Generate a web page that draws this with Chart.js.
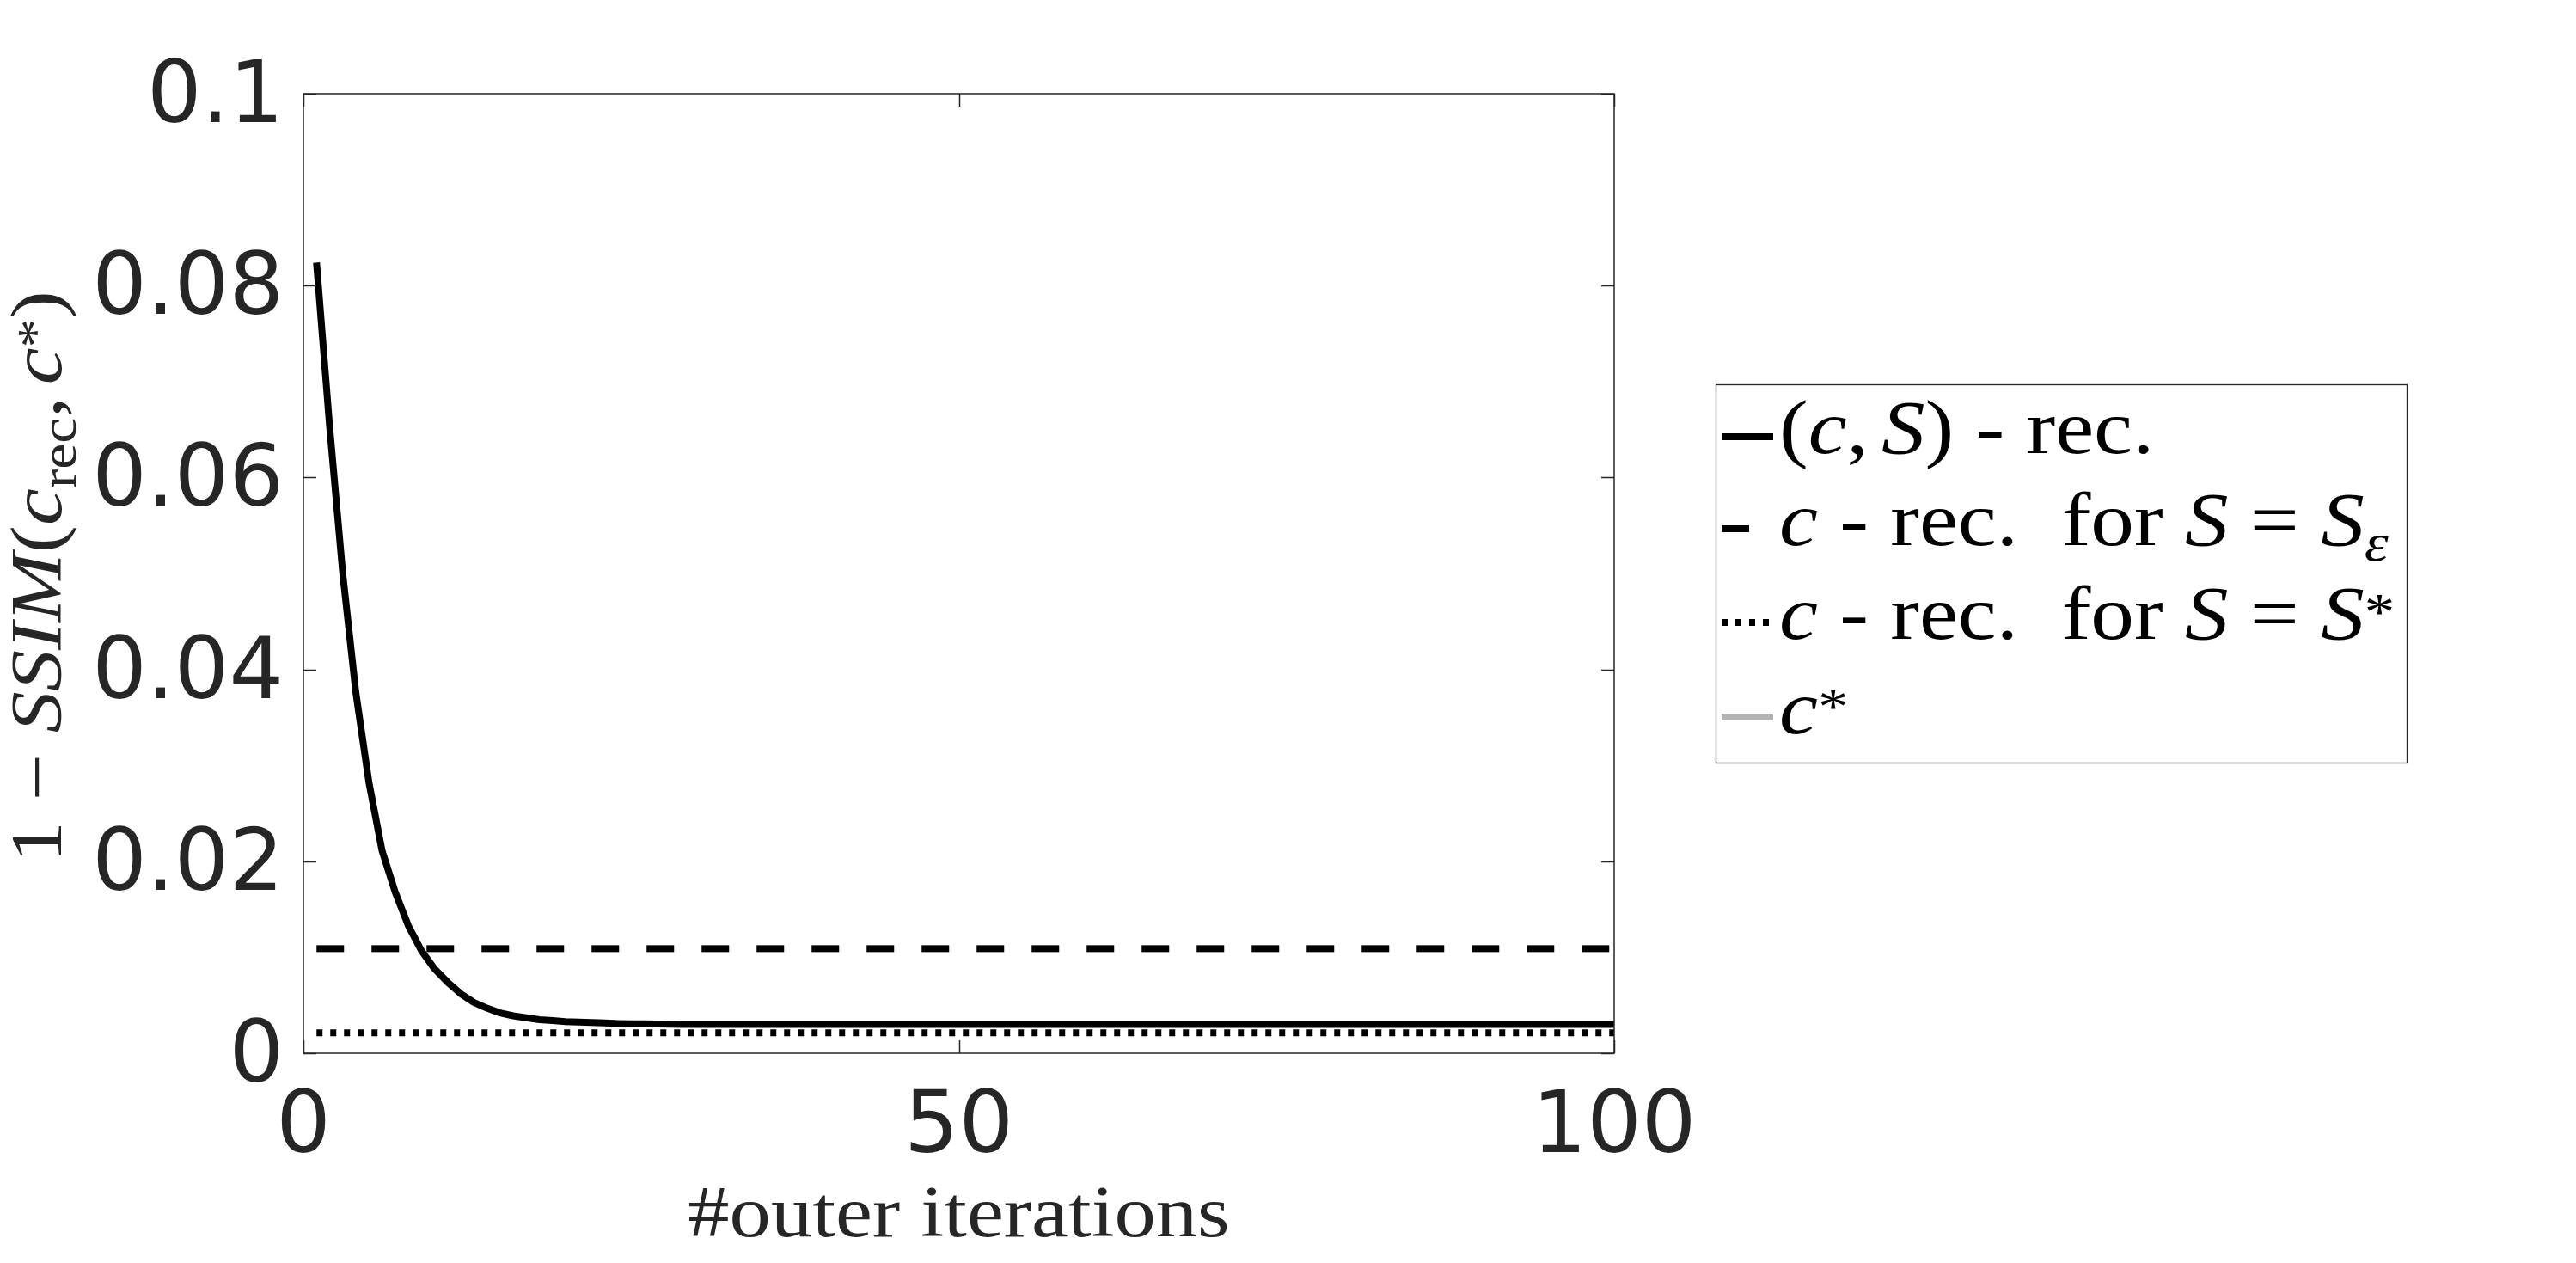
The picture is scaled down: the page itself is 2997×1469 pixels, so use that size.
<!DOCTYPE html>
<html>
<head>
<meta charset="utf-8">
<script src="https://cdn.jsdelivr.net/npm/chart.js@4/dist/chart.umd.min.js"></script>
<style>
html,body{margin:0;padding:0;background:#fff;overflow:hidden}
#wrap{width:2997px;height:1469px;position:relative;background:#fff}
</style>
</head>
<body>
<div id="wrap"><canvas id="c" width="2997" height="1469"></canvas></div>
<script>
// ---------------- data ----------------
const iterations = [1,2,3,4,5,6,7,8,9,10,11,12,13,14,15,16,17,18,19,20,
  21,22,23,24,25,26,27,28,29,30,31,32,33,34,35,36,37,38,39,40,
  41,42,43,44,45,46,47,48,49,50,51,52,53,54,55,56,57,58,59,60,
  61,62,63,64,65,66,67,68,69,70,71,72,73,74,75,76,77,78,79,80,
  81,82,83,84,85,86,87,88,89,90,91,92,93,94,95,96,97,98,99,100];
const csRecValues = [0.0824,0.0653,0.0500,0.0376,0.0282,0.0211,0.0168,0.0133,0.0107,0.0088,
  0.0074,0.0062,0.0053,0.0047,0.0042,0.0039,0.0037,0.0035,0.0034,0.0033,
  0.00325,0.0032,0.00315,0.0031,0.00308,0.00306,0.00304,0.00302,0.0030,0.0030,
  0.0030,0.0030,0.0030,0.0030,0.0030,0.0030,0.0030,0.0030,0.0030,0.0030,
  0.0030,0.0030,0.0030,0.0030,0.0030,0.0030,0.0030,0.0030,0.0030,0.0030,
  0.0030,0.0030,0.0030,0.0030,0.0030,0.0030,0.0030,0.0030,0.0030,0.0030,
  0.0030,0.0030,0.0030,0.0030,0.0030,0.0030,0.0030,0.0030,0.0030,0.0030,
  0.0030,0.0030,0.0030,0.0030,0.0030,0.0030,0.0030,0.0030,0.0030,0.0030,
  0.0030,0.0030,0.0030,0.0030,0.0030,0.0030,0.0030,0.0030,0.0030,0.0030,
  0.0030,0.0030,0.0030,0.0030,0.0030,0.0030,0.0030,0.0030,0.0030,0.0030];
const cRecSepsLevel = 0.0109;   // c - rec. for S = S_eps
const cRecSstarLevel = 0.00213; // c - rec. for S = S*
const levelRange = [1, 100];
const xTicks = [0, 50, 100];
const xTickLabels = ['0', '50', '100'];
const yTicks = [0, 0.02, 0.04, 0.06, 0.08, 0.1];
const yTickLabels = ['0', '0.02', '0.04', '0.06', '0.08', '0.1'];

// rich text (LaTeX-like) labels
const legendLabels = [
  [{t:'('},{t:'c',it:1},{t:','},{gap:0.17},{t:'S',it:1},{t:')'},{t:' - rec.'}],
  [{t:'c',it:1},{t:' - rec.  for '},{t:'S',it:1},{t:' = '},{t:'S',it:1},{t:'ε',it:1,sub:1}],
  [{t:'c',it:1},{t:' - rec.  for '},{t:'S',it:1},{t:' = '},{t:'S',it:1},{t:'*',sup:1}],
  [{t:'c',it:1},{t:'*',sup:1}]
];
const yTitle = [{t:'1'},{t:' − '},{t:'SSIM',it:1},{t:'('},{t:'c',it:1},{t:'rec',sub:1},{t:','},{gap:0.17},{t:'c',it:1},{t:'*',sup:1},{t:')'}];
const xTitle = [{t:'#outer iterations'}];

// ---------------- rich text helpers ----------------
const SERIF = '"Liberation Serif", "Times New Roman", serif';
const STRETCH = 1.15;
function segFont(sg, size){
  const s = (sg.sub || sg.sup) ? size * 0.7 : size;
  return (sg.it ? 'italic ' : '') + s + 'px ' + SERIF;
}
function segDy(sg, size){
  if (sg.sub) return 0.2 * size;
  if (sg.sup) return (sg.t === '*' ? -0.12 : -0.38) * size;
  return 0;
}
function measureRich(ctx, segs, size){
  let w = 0;
  for (const sg of segs){
    if (sg.gap) w += sg.gap * size;
    if (!sg.t) continue;
    ctx.font = segFont(sg, size);
    w += ctx.measureText(sg.t).width * STRETCH;
  }
  return w;
}
function drawRich(ctx, segs, size, x, y){
  let cx = x;
  for (const sg of segs){
    if (sg.gap) cx += sg.gap * size;
    if (!sg.t) continue;
    ctx.font = segFont(sg, size);
    const w = ctx.measureText(sg.t).width * STRETCH;
    ctx.save();
    ctx.translate(cx, y + segDy(sg, size));
    ctx.scale(STRETCH, 1);
    ctx.fillText(sg.t, 0, 0);
    ctx.restore();
    cx += w;
  }
  return cx;
}

// ---------------- plugins ----------------
const framePlugin = {
  id: 'frame',
  afterDatasetsDraw(chart){
    const {ctx, chartArea: a, scales: {x, y}} = chart;
    ctx.save();
    ctx.strokeStyle = '#262626';
    ctx.lineWidth = 1.5;
    ctx.strokeRect(a.left, a.top, a.right - a.left, a.bottom - a.top);
    ctx.beginPath();
    const TL = 15;
    for (const t of x.ticks){
      const px = Math.round(x.getPixelForValue(t.value)) + 0.5;
      ctx.moveTo(px, a.bottom); ctx.lineTo(px, a.bottom - TL);
      ctx.moveTo(px, a.top); ctx.lineTo(px, a.top + TL);
    }
    for (const t of y.ticks){
      const py = Math.round(y.getPixelForValue(t.value)) + 0.5;
      ctx.moveTo(a.left, py); ctx.lineTo(a.left + TL, py);
      ctx.moveTo(a.right, py); ctx.lineTo(a.right - TL, py);
    }
    ctx.stroke();
    ctx.restore();
  }
};

const titlesPlugin = {
  id: 'titles',
  afterDraw(chart){
    const {ctx, chartArea: a} = chart;
    ctx.save();
    ctx.fillStyle = '#262626';
    ctx.textBaseline = 'alphabetic';
    ctx.textAlign = 'left';
    // x title
    const xs = 84;
    const xw = measureRich(ctx, xTitle, xs);
    drawRich(ctx, xTitle, xs, (a.left + a.right) / 2 - xw / 2, 1438);
    // y title (rotated)
    const ys = 84;
    const yw = measureRich(ctx, yTitle, ys);
    ctx.save();
    ctx.translate(71, 671);
    ctx.rotate(-Math.PI / 2);
    drawRich(ctx, yTitle, ys, -yw / 2, 0);
    ctx.restore();
    ctx.restore();
  }
};

const legendPlugin = {
  id: 'mathLegend',
  afterDraw(chart){
    const {ctx} = chart;
    const box = {l: 1996, t: 447, r: 2800, b: 887};
    ctx.save();
    ctx.fillStyle = '#ffffff';
    ctx.fillRect(box.l, box.t, box.r - box.l, box.b - box.t);
    ctx.strokeStyle = '#262626';
    ctx.lineWidth = 1.3;
    ctx.strokeRect(box.l + 0.5, box.t + 0.5, box.r - box.l, box.b - box.t);
    const baselines = [527, 634, 743, 853];
    const size = 88;
    chart.data.datasets.forEach((ds, i) => {
      const by = baselines[i];
      const ly = by - 19;
      ctx.save();
      ctx.beginPath();
      ctx.strokeStyle = ds.borderColor;
      ctx.lineWidth = ds.borderWidth;
      ctx.lineCap = 'butt';
      ctx.setLineDash(ds.borderDash || []);
      ctx.moveTo(2003, ly);
      ctx.lineTo(2063, ly);
      ctx.stroke();
      ctx.restore();
      ctx.fillStyle = '#000000';
      ctx.textBaseline = 'alphabetic';
      ctx.textAlign = 'left';
      drawRich(ctx, legendLabels[i], size, 2070, by);
    });
    ctx.restore();
  }
};

// ---------------- chart ----------------
const ctx = document.getElementById('c').getContext('2d');
new Chart(ctx, {
  type: 'line',
  data: {
    labels: iterations,
    datasets: [
      {
        label: '(c,S) - rec.',
        data: csRecValues,
        borderColor: '#000000',
        borderWidth: 8,
        pointRadius: 0,
        fill: false,
        clip: 0
      },
      {
        label: 'c - rec. for S = S_eps',
        data: levelRange.map(v => ({x: v, y: cRecSepsLevel})),
        borderColor: '#000000',
        borderWidth: 8,
        borderDash: [32, 32],
        pointRadius: 0,
        fill: false,
        clip: 0
      },
      {
        label: 'c - rec. for S = S*',
        data: levelRange.map(v => ({x: v, y: cRecSstarLevel})),
        borderColor: '#000000',
        borderWidth: 8,
        borderDash: [7, 9],
        pointRadius: 0,
        fill: false,
        clip: 0
      },
      {
        label: 'c*',
        data: [],
        borderColor: '#b3b3b3',
        borderWidth: 8,
        pointRadius: 0,
        fill: false,
        clip: 0
      }
    ]
  },
  options: {
    responsive: false,
    animation: false,
    devicePixelRatio: 1,
    events: [],
    layout: {padding: {left: 0, top: 109, right: 1119, bottom: 0}},
    plugins: {legend: {display: false}, tooltip: {enabled: false}, title: {display: false}},
    elements: {line: {tension: 0, borderCapStyle: 'butt', borderJoinStyle: 'round'}, point: {radius: 0}},
    scales: {
      x: {
        type: 'linear',
        min: 0, max: 100,
        afterBuildTicks: s => { s.ticks = xTicks.map(v => ({value: v})); },
        afterFit: s => { s.height = 244; },
        grid: {display: false, drawTicks: false},
        border: {display: false},
        ticks: {
          color: '#262626',
          font: {family: '"DejaVu Sans"', size: 100},
          padding: 29,
          maxRotation: 0, minRotation: 0,
          autoSkip: false,
          callback: (v, i) => xTickLabels[i]
        }
      },
      y: {
        type: 'linear',
        min: 0, max: 0.1,
        afterBuildTicks: s => { s.ticks = yTicks.map(v => ({value: v})); },
        afterFit: s => { s.width = 353; },
        grid: {display: false, drawTicks: false},
        border: {display: false},
        ticks: {
          color: '#262626',
          font: {family: '"DejaVu Sans"', size: 100},
          padding: 23,
          labelOffset: 7,
          autoSkip: false,
          callback: (v, i) => yTickLabels[i]
        }
      }
    }
  },
  plugins: [framePlugin, titlesPlugin, legendPlugin]
});
</script>
</body>
</html>
